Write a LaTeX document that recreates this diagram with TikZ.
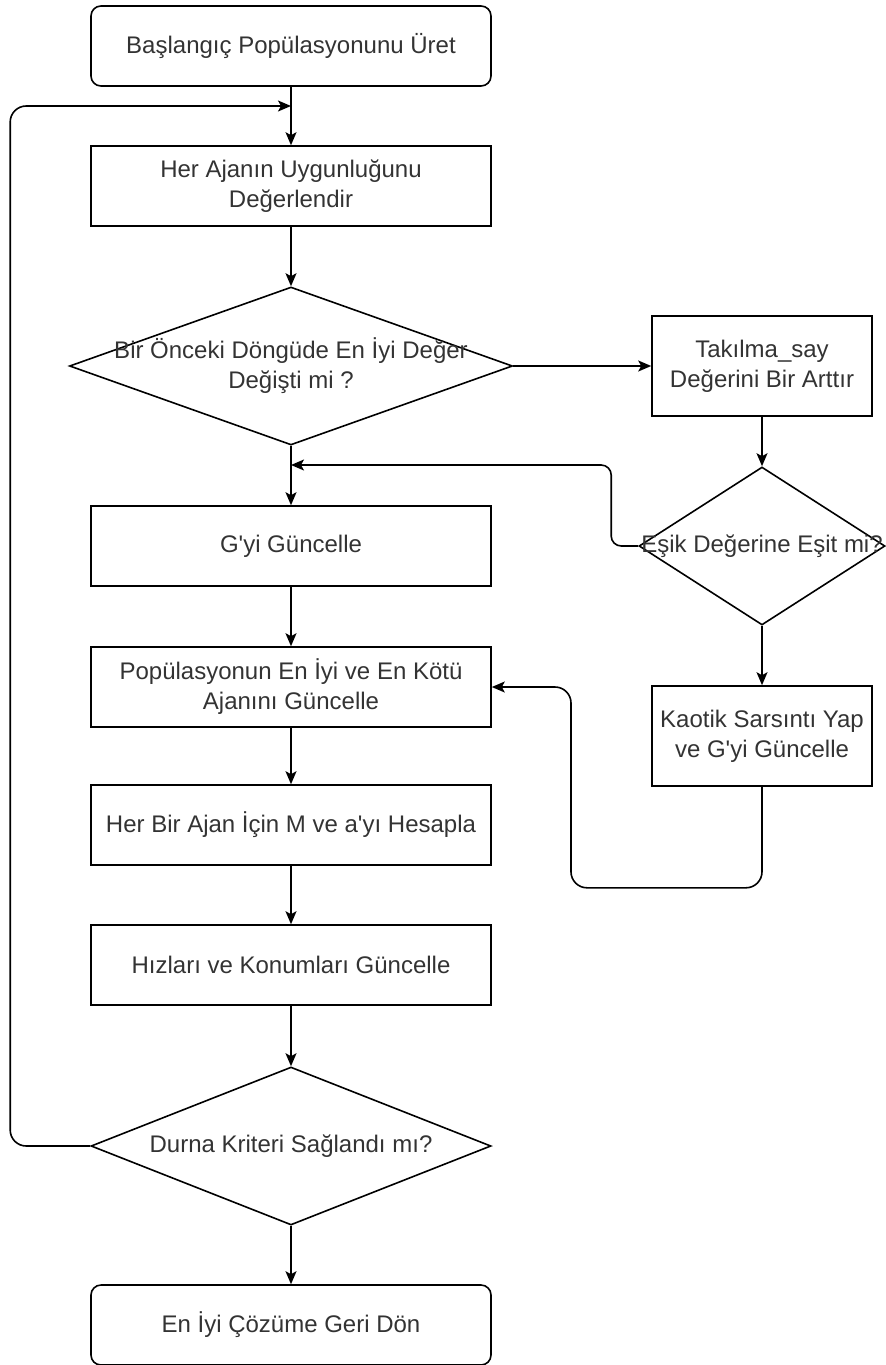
\documentclass[tikz,border=0pt]{standalone}
\usepackage{fontspec}
\setmainfont{Liberation Sans}
\usetikzlibrary{positioning,arrows.meta,calc,shapes.geometric}
\definecolor{ink}{HTML}{333333}

\begin{document}
\begin{tikzpicture}[x=0.5pt,y=-0.5pt,
    every node/.style={font=\fontsize{12}{15}\selectfont, text=ink},
    box/.style={draw=black, line width=0.8pt, minimum width=200pt, minimum height=40pt, align=center, inner sep=2pt},
    sidebox/.style={box, minimum width=110pt, minimum height=50pt},
    term/.style={box, rounded corners=5pt},
    decision/.style={draw=black, line width=0.8pt, shape=diamond, inner sep=0pt, minimum height=79pt},
    lbl/.style={align=center, inner sep=0pt},
    flow/.style={draw=black, line width=0.8pt, -{Stealth[length=6.5pt,width=5.5pt,inset=1.5pt]}}]
  \useasboundingbox (0,0) rectangle (886,1365);
  % Main column
  \node[term] (start) at (291,46) {Başlangıç Popülasyonunu Üret};
  \node[box] (eval) at (291,186) {Her Ajanın Uygunluğunu\\Değerlendir};
  \node[decision, minimum width=221.5pt] (d1) at (291,366) {};
  \node[lbl] (d1t) at (d1) {Bir Önceki Döngüde En İyi Değer\\Değişti mi ?};
  \node[box] (gupd) at (291,546) {G\textquotesingle yi Güncelle};
  \node[box] (pop) at (291,687) {Popülasyonun En İyi ve En Kötü\\Ajanını Güncelle};
  \node[box] (calc) at (291,825) {Her Bir Ajan İçin M ve a\textquotesingle yı Hesapla};
  \node[box] (move) at (291,965) {Hızları ve Konumları Güncelle};
  \node[decision, minimum width=200pt] (d3) at (291,1146) {};
  \node[lbl] (d3t) at (d3) {Durna Kriteri Sağlandı mı?};
  \node[term] (stop) at (291,1325) {En İyi Çözüme Geri Dön};
  % Right column
  \node[sidebox] (stuck) at (762,366) {Takılma\_say\\Değerini Bir Arttır};
  \node[decision, minimum width=123pt] (d2) at (762,546) {};
  \node[lbl] (d2t) at (d2) {Eşik Değerine Eşit mi?};
  \node[sidebox] (chaos) at (762,736) {Kaotik Sarsıntı Yap\\ve G\textquotesingle yi Güncelle};
  % Merge points
  \coordinate (hmerge) at (291,106);
  \coordinate (gmerge) at (291,465);
  % Connectors
  \draw[flow] (start.south) -- (eval.north);
  \draw[flow] (eval.south) -- (d1.north);
  \draw[flow] (d1.east) -- (stuck.west);
  \draw[flow] (d1.south) -- (gupd.north);
  \draw[flow] (gupd.south) -- (pop.north);
  \draw[flow] (pop.south) -- (calc.north);
  \draw[flow] (calc.south) -- (move.north);
  \draw[flow] (move.south) -- (d3.north);
  \draw[flow] (d3.south) -- (stop.north);
  \draw[flow] (stuck.south) -- (d2.north);
  \draw[flow] (d2.south) -- (chaos.north);
  \draw[flow, rounded corners=5pt] (d2.west) -- ++(-27,0) |- (gmerge);
  \draw[flow, rounded corners=8pt] (chaos.south) -- ++(0,101) -- ++(-191,0) |- (pop.east);
  \draw[flow, rounded corners=8pt] (d3.west) -- ++(-80,0) |- (hmerge);
\end{tikzpicture}
\end{document}
